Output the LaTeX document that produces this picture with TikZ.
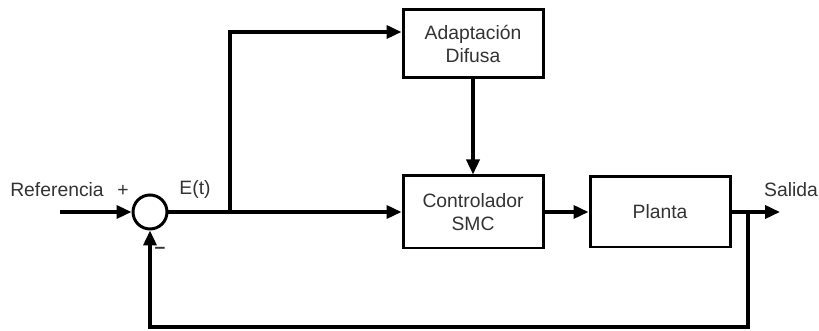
\documentclass[tikz,border=0pt]{standalone}
\usepackage{fontspec}
\setmainfont{Liberation Sans}
\usetikzlibrary{arrows.meta,calc}
\begin{document}
\begin{tikzpicture}[
        every node/.style={font=\fontsize{11}{13}\selectfont, text=black!80},
        block/.style={draw=black, line width=1.7pt, minimum width=2.8cm, minimum height=1.4cm, align=center},
        sumnode/.style={draw=black, circle, line width=1.7pt, minimum size=0.68cm, inner sep=0pt},
        signal/.style={line width=2pt, -{Triangle[length=0.3cm, width=0.26cm]}},
        wire/.style={line width=2pt}
    ]
        \useasboundingbox (0,0) rectangle (16.38,6.62);

        % Blocks
        \node[sumnode] (sum) at (3.0,2.38) {};
        \node[block, minimum height=1.36cm] (fuzzy) at (9.46,5.74) {Adaptación\\Difusa};
        \node[block, minimum height=1.44cm] (smc) at (9.46,2.38) {Controlador\\SMC};
        \node[block] (plant) at (13.2,2.38) {Planta};

        % Auxiliary points
        \coordinate (in) at (1.2,2.38);
        \coordinate (err) at (4.6,2.38);
        \coordinate (top) at (4.6,5.98);
        \coordinate (fb) at (14.96,2.38);
        \coordinate (fbdown) at (14.96,0.08);
        \coordinate (out) at (15.6,2.38);

        % Forward path
        \draw[signal] (in) -- (sum.west);
        \draw[signal] (sum.east) -- (smc.west);
        \draw[signal] (err) -- (top) -- (fuzzy.west |- top);
        \draw[signal] (fuzzy.south) -- (smc.north);
        \draw[signal] (smc.east) -- (plant.west);
        \draw[signal] (plant.east) -- (out);

        % Feedback
        \draw[signal] (fb) -- (fbdown) -- (sum |- fbdown) -- (sum.south);

        % Labels
        \node (ref) at (1.14,2.82) {Referencia};
        \node (plus) at (2.46,2.8) {+};
        \node (minus) at (3.2,1.62) {\textbf{--}};
        \node (et) at (3.9,2.82) {E(t)};
        \node (salida) at (15.82,2.82) {Salida};

    \end{tikzpicture}
\end{document}
